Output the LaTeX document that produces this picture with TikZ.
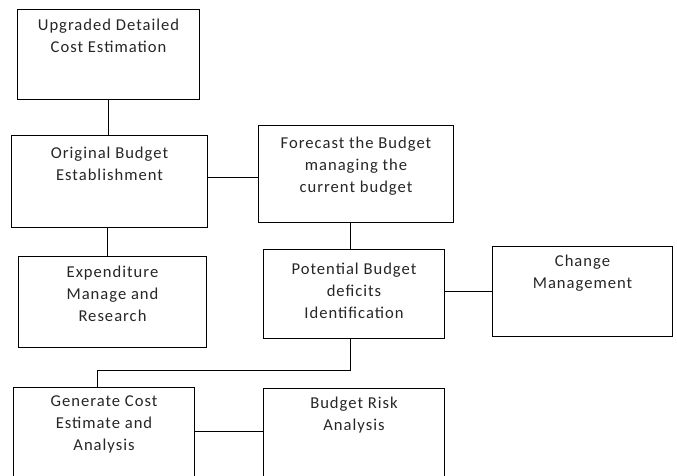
\documentclass[tikz,border=0pt]{standalone}
\usepackage{fontspec}
\setmainfont{Carlito}[LetterSpace=6]
\usetikzlibrary{positioning}
\tikzset{
  blk/.style={draw, line width=1pt, anchor=north west, inner sep=0pt},
  lbl/.style={anchor=north, align=center, inner sep=0pt, text=black!85,
    font=\fontsize{16.6}{21.7}\selectfont},
}
\begin{document}
\begin{tikzpicture}[x=1pt,y=-1pt]
      \useasboundingbox (0,0) rectangle (677,475);
      % boxes
      \node[blk, minimum width=182, minimum height=90] (est) at (17,9) {};
      \node[blk, minimum width=196, minimum height=92] (orig) at (11,135) {};
      \node[blk, minimum width=195, minimum height=97] (fore) at (258,125) {};
      \node[blk, minimum width=188, minimum height=91] (expd) at (18,256) {};
      \node[blk, minimum width=181, minimum height=89] (pot) at (263,249) {};
      \node[blk, minimum width=180, minimum height=90] (chg) at (492,246) {};
      \node[blk, minimum width=181, minimum height=95] (gen) at (13,387) {};
      \node[blk, minimum width=181, minimum height=95] (risk) at (263,388) {};
      % texts
      \node[lbl, below=10pt of est.north] (estT) {Upgraded Detailed\\Cost Estimation};
      \node[lbl, below=12pt of orig.north] (origT) {Original Budget\\Establishment};
      \node[lbl, below=12pt of fore.north] (foreT) {Forecast the Budget\\managing the\\current budget};
      \node[lbl, below=10pt of expd.north] (expdT) {Expenditure\\Manage and\\Research};
      \node[lbl, below=14pt of pot.north] (potT) {Potential Budget\\deficits\\Identification};
      \node[lbl, below=9pt of chg.north] (chgT) {Change\\Management};
      \node[lbl, below=9pt of gen.north] (genT) {Generate Cost\\Estimate and\\Analysis};
      \node[lbl, below=9pt of risk.north] (riskT) {Budget Risk\\Analysis};
      % connectors
      \begin{scope}[line width=1pt]
        \draw (est.south) -- (est.south |- orig.north);
        \draw ([yshift=4pt]orig.east) -- ([yshift=4pt]orig.east -| fore.west);
        \draw ([xshift=-2pt]orig.south) -- ([xshift=-2pt]orig.south |- expd.north);
        \draw ([xshift=-4pt]pot.north) -- ([xshift=-4pt]pot.north |- fore.south);
        \draw (chg.west) -- (chg.west -| pot.east);
        \draw ([xshift=-4pt]pot.south) -- ++(0,31) -| ([xshift=-7pt]gen.north);
        \draw ([yshift=4pt]gen.east) -- ([yshift=4pt]gen.east -| risk.west);
      \end{scope}
    \end{tikzpicture}
\end{document}
